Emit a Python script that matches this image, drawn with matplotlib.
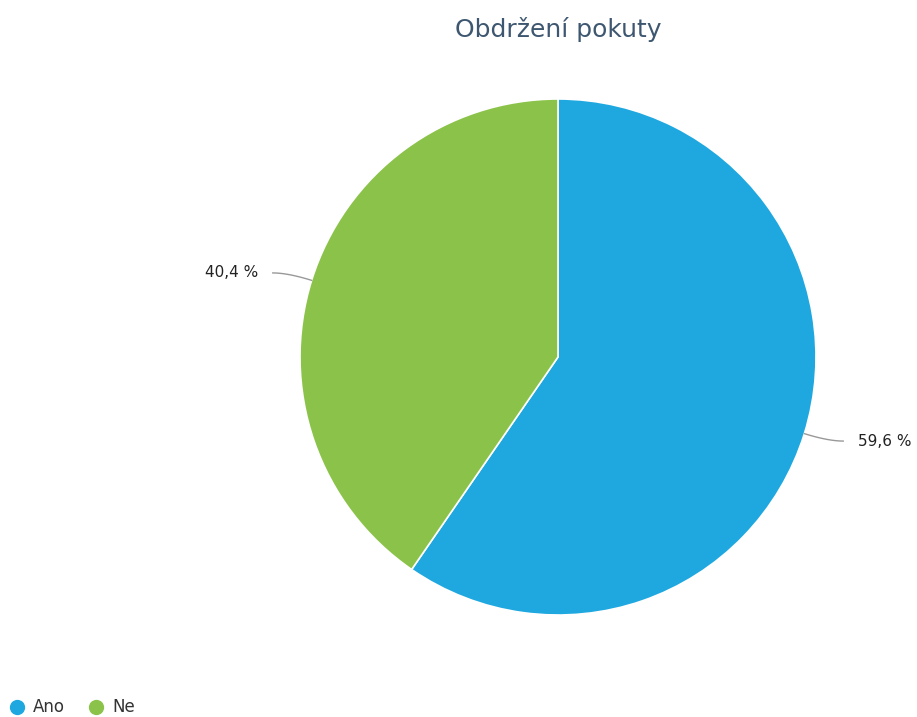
import matplotlib
matplotlib.use("Agg")
import matplotlib.pyplot as plt
from matplotlib.lines import Line2D
import numpy as np

plt.rcParams["font.family"] = ["DejaVu Sans"]

# Data
categories = ["Ano", "Ne"]
values = [59.6, 40.4]
colors = ["#1fa8e0", "#8bc34a"]
title = "Obdržení pokuty"

W, H = 917, 717
fig = plt.figure(figsize=(W / 100, H / 100), dpi=100)
ax = fig.add_axes([0, 0, 1, 1])

cx, cy, r = 558, 717 - 357, 258
wedges, _ = ax.pie(values, colors=colors, startangle=90, counterclock=False,
                   center=(cx, cy), radius=r, frame=True,
                   wedgeprops=dict(edgecolor="white", linewidth=1.2))
ax.set_xlim(0, W)
ax.set_ylim(0, H)
ax.set_aspect("equal")
ax.axis("off")

# data labels with curved connectors
t = np.linspace(0, 1, 30)[:, None]
for w, v in zip(wedges, values):
    ang = np.deg2rad((w.theta1 + w.theta2) / 2)
    d = np.array([np.cos(ang), np.sin(ang)])
    p0 = np.array([cx, cy]) + r * d
    p1 = p0 + 25 * d
    side = np.sign(d[0])
    p2 = p1 + np.array([side * 15, 0])
    curve = (1 - t) ** 2 * p0 + 2 * (1 - t) * t * p1 + t ** 2 * p2
    ax.plot(curve[:, 0], curve[:, 1], color="#999999", lw=1)
    ax.text(p2[0] + side * 15, p2[1], f"{v:.1f} %".replace(".", ","),
            ha="left" if side > 0 else "right", va="center",
            fontsize=11, color="#222222")

ax.text(cx, H - 29, title, ha="center", va="center", fontsize=18, color="#3e5770")

handles = [Line2D([], [], marker="o", ls="", markersize=10, color=c) for c in colors]
ax.legend(handles, categories, loc="lower left", bbox_to_anchor=(-0.009, -0.02),
          frameon=False, ncol=2, fontsize=12, handletextpad=0.35, columnspacing=1.3,
          handlelength=1.2, labelcolor="#333333")

fig.savefig("out.png", dpi=100)
